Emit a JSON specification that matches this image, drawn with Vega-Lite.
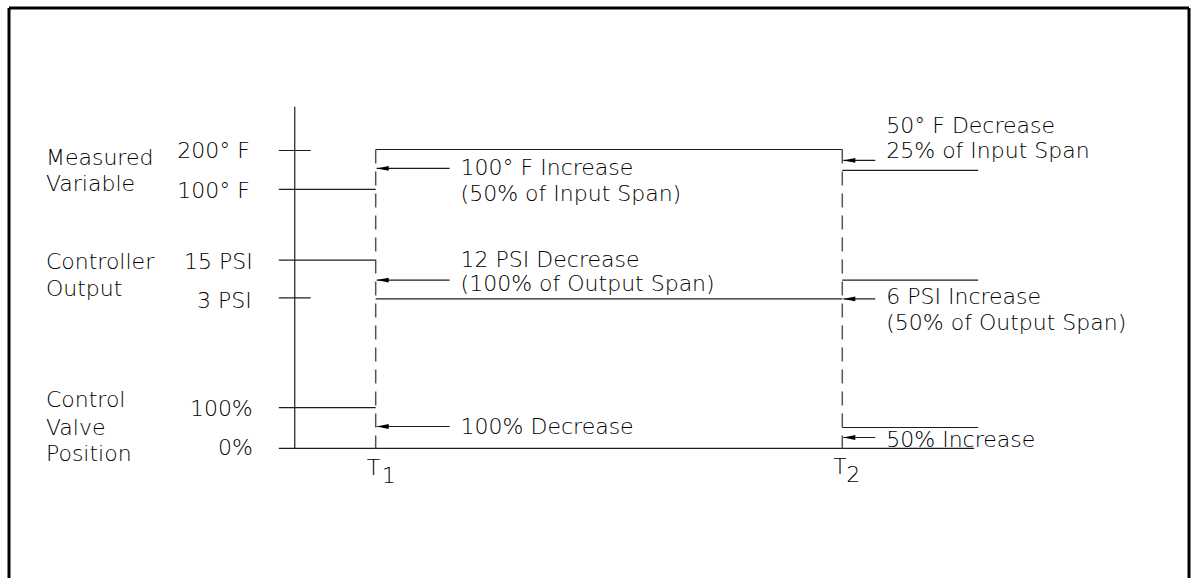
{
  "$schema": "https://vega.github.io/schema/vega-lite/v6.json",
  "width": 1191,
  "height": 580,
  "autosize": {"type": "fit", "contains": "padding"},
  "padding": 0,
  "background": "white",
  "config": {"view": {"stroke": null}},
  "datasets": {
    "frame": [
      {"x": 9, "y": 8, "x2": 9, "y2": 580},
      {"x": 9, "y": 8, "x2": 1190, "y2": 8},
      {"x": 1190, "y": 8, "x2": 1190, "y2": 580}
    ],
    "lines": [
      {"x": 295, "y": 107, "x2": 295, "y2": 450},
      {"x": 279, "y": 151, "x2": 311, "y2": 151},
      {"x": 279, "y": 299, "x2": 311, "y2": 299},
      {"x": 279, "y": 190, "x2": 376, "y2": 190},
      {"x": 376, "y": 150, "x2": 843, "y2": 150},
      {"x": 843, "y": 171, "x2": 979, "y2": 171},
      {"x": 279, "y": 261, "x2": 376, "y2": 261},
      {"x": 376, "y": 300, "x2": 843, "y2": 300},
      {"x": 843, "y": 281, "x2": 979, "y2": 281},
      {"x": 279, "y": 409, "x2": 376, "y2": 409},
      {"x": 279, "y": 450, "x2": 975, "y2": 450},
      {"x": 843, "y": 429, "x2": 979, "y2": 429},
      {"x": 377, "y": 169, "x2": 450, "y2": 169},
      {"x": 377, "y": 281, "x2": 450, "y2": 281},
      {"x": 377, "y": 428, "x2": 450, "y2": 428},
      {"x": 844, "y": 161, "x2": 876, "y2": 161},
      {"x": 844, "y": 300, "x2": 876, "y2": 300},
      {"x": 844, "y": 439, "x2": 876, "y2": 439}
    ],
    "dashes": [
      {"x": 376, "y": 150, "x2": 376, "y2": 450},
      {"x": 843, "y": 150, "x2": 843, "y2": 450}
    ],
    "heads": [
      {"x": 383, "y": 169},
      {"x": 383, "y": 281},
      {"x": 383, "y": 428},
      {"x": 850, "y": 161},
      {"x": 850, "y": 300},
      {"x": 850, "y": 439}
    ],
    "leftText": [
      {"x": 46, "y": 166, "text": "Measured"},
      {"x": 46, "y": 192, "text": "Variable"},
      {"x": 46, "y": 270, "text": "Controller"},
      {"x": 46, "y": 297, "text": "Output"},
      {"x": 46, "y": 408, "text": "Control"},
      {"x": 46, "y": 437, "text": "Valve"},
      {"x": 46, "y": 463, "text": "Position"},
      {"x": 461, "y": 176, "text": "100° F Increase"},
      {"x": 461, "y": 202, "text": "(50% of Input Span)"},
      {"x": 461, "y": 268, "text": "12 PSI Decrease"},
      {"x": 461, "y": 292, "text": "(100% of Output Span)"},
      {"x": 461, "y": 436, "text": "100% Decrease"},
      {"x": 887, "y": 133, "text": "50° F Decrease"},
      {"x": 887, "y": 159, "text": "25% of Input Span"},
      {"x": 887, "y": 305, "text": "6 PSI Increase"},
      {"x": 887, "y": 331, "text": "(50% of Output Span)"},
      {"x": 887, "y": 449, "text": "50% Increase"},
      {"x": 367, "y": 477, "text": "T"},
      {"x": 834, "y": 476, "text": "T"},
      {"x": 382, "y": 485, "text": "1"},
      {"x": 847, "y": 484, "text": "2"}
    ],
    "rightText": [
      {"x": 250, "y": 159, "text": "200° F"},
      {"x": 250, "y": 199, "text": "100° F"},
      {"x": 253, "y": 270, "text": "15 PSI"},
      {"x": 252, "y": 309, "text": "3 PSI"},
      {"x": 253, "y": 417, "text": "100%"},
      {"x": 253, "y": 457, "text": "0%"}
    ]
  },
  "encoding": {
    "x": {"field": "x", "type": "quantitative", "scale": {"domain": [0, 1191], "nice": false, "zero": false}, "axis": null},
    "y": {"field": "y", "type": "quantitative", "scale": {"domain": [0, 580], "nice": false, "zero": false, "reverse": true}, "axis": null}
  },
  "layer": [
    {
      "data": {"name": "frame"},
      "mark": {"type": "rule", "color": "black", "strokeWidth": 3},
      "encoding": {"x2": {"field": "x2"}, "y2": {"field": "y2"}}
    },
    {
      "data": {"name": "lines"},
      "mark": {"type": "rule", "color": "#1e1e1e", "strokeWidth": 1.2},
      "encoding": {"x2": {"field": "x2"}, "y2": {"field": "y2"}}
    },
    {
      "data": {"name": "dashes"},
      "mark": {"type": "rule", "color": "#555555", "strokeWidth": 1.5, "strokeDash": [14, 8]},
      "encoding": {"x2": {"field": "x2"}, "y2": {"field": "y2"}}
    },
    {
      "data": {"name": "heads"},
      "mark": {"type": "point", "shape": "M-1,0L1,-0.4L1,0.4Z", "filled": true, "color": "black", "opacity": 1, "size": 144, "strokeWidth": 0}
    },
    {
      "data": {"name": "leftText"},
      "mark": {"type": "text", "align": "left", "baseline": "alphabetic", "font": "DejaVu Sans", "fontSize": 22, "fontWeight": 200, "color": "#000000"},
      "encoding": {"text": {"field": "text"}}
    },
    {
      "data": {"name": "rightText"},
      "mark": {"type": "text", "align": "right", "baseline": "alphabetic", "font": "DejaVu Sans", "fontSize": 22, "fontWeight": 200, "color": "#000000"},
      "encoding": {"text": {"field": "text"}}
    }
  ]
}
